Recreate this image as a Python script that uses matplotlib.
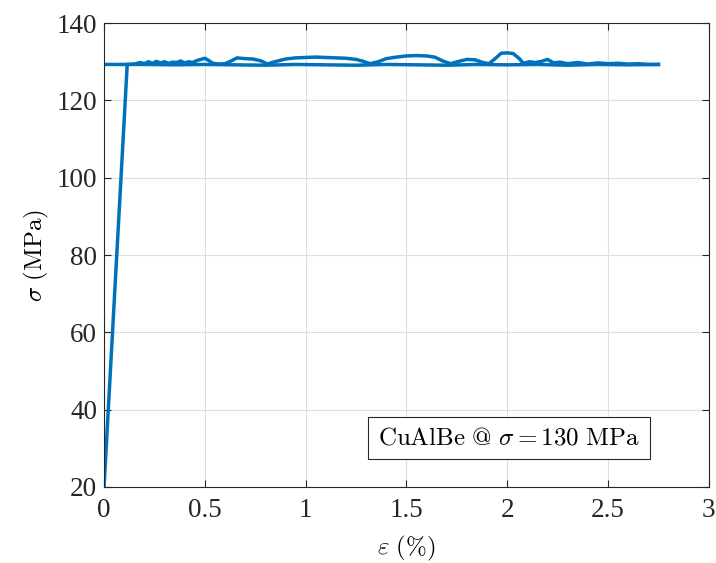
import matplotlib
matplotlib.use('Agg')
import matplotlib.pyplot as plt

# ── data ──────────────────────────────────────────────────────────────
load_strain = [0.0, 0.115]
load_stress = [20.0, 129.3]

upper_strain = [0.115, 0.15, 0.18, 0.2, 0.22, 0.24, 0.26, 0.28, 0.3, 0.32, 0.34, 0.36,
                0.38, 0.4, 0.42, 0.44, 0.46, 0.48, 0.5, 0.52, 0.54, 0.57, 0.6, 0.63,
                0.66, 0.7, 0.74, 0.78, 0.81, 0.84, 0.9, 0.95, 1.0, 1.05, 1.1, 1.15,
                1.2, 1.25, 1.28, 1.32, 1.36, 1.4, 1.45, 1.5, 1.55, 1.6, 1.64, 1.68,
                1.72, 1.76, 1.8, 1.84, 1.88, 1.91, 1.94, 1.97, 2.0, 2.03, 2.06, 2.08,
                2.11, 2.14, 2.17, 2.2, 2.23, 2.26, 2.3, 2.35, 2.4, 2.45, 2.5, 2.55,
                2.6, 2.65, 2.7, 2.75]
upper_stress = [129.3, 129.4, 129.8, 129.5, 130.0, 129.6, 130.1, 129.7, 130.0, 129.6, 129.9, 129.8,
                130.2, 129.7, 130.0, 129.8, 130.3, 130.6, 130.9, 130.3, 129.6, 129.4, 129.5, 130.2,
                131.0, 130.8, 130.7, 130.2, 129.4, 129.9, 130.7, 131.0, 131.1, 131.2, 131.1, 131.0,
                130.9, 130.6, 130.2, 129.5, 130.0, 130.8, 131.2, 131.5, 131.6, 131.5, 131.2, 130.2,
                129.5, 130.1, 130.6, 130.5, 129.8, 129.5, 130.8, 132.2, 132.3, 132.1, 130.8, 129.6,
                130.0, 129.8, 130.1, 130.6, 129.7, 129.9, 129.5, 129.8, 129.4, 129.7, 129.5, 129.6,
                129.4, 129.5, 129.3, 129.3]

lower_strain = [2.75, 2.6, 2.45, 2.3, 2.15, 2.0, 1.85, 1.7, 1.55, 1.4, 1.25, 1.1,
                0.95, 0.8, 0.65, 0.5, 0.35, 0.2, 0.1, 0.0]
lower_stress = [129.3, 129.2, 129.3, 129.1, 129.3, 129.2, 129.3, 129.1, 129.2, 129.3, 129.1, 129.2,
                129.3, 129.1, 129.2, 129.3, 129.2, 129.3, 129.3, 129.3]

x_ticks = [0, 0.5, 1, 1.5, 2, 2.5, 3]
x_labels = ['0', '0.5', '1', '1.5', '2', '2.5', '3']
y_ticks = [20, 40, 60, 80, 100, 120, 140]

# ── plot ──────────────────────────────────────────────────────────────
plt.rcParams['mathtext.fontset'] = 'cm'
plt.rcParams['font.family'] = ['Liberation Serif', 'DejaVu Serif']

fig = plt.figure(figsize=(7.16, 5.63), dpi=100)
ax = fig.add_axes([0.1453, 0.135, 0.8447, 0.824])

c = '#0072BD'
ax.plot(load_strain, load_stress, color=c, lw=2.5, solid_capstyle='butt')
ax.plot(upper_strain, upper_stress, color=c, lw=2.5)
ax.plot(lower_strain, lower_stress, color=c, lw=2.5)

ax.set_xlim(0, 3)
ax.set_ylim(20, 140)
ax.set_xticks(x_ticks)
ax.set_xticklabels(x_labels)
ax.set_yticks(y_ticks)
ax.grid(True, color='#dedede', lw=0.8)
ax.set_axisbelow(True)
ax.tick_params(direction='in', length=5, width=0.8, labelsize=19.5, colors='#262626',
               top=True, right=True)
ax.tick_params(axis='x', pad=8)
ax.tick_params(axis='y', pad=5)
for s in ax.spines.values():
    s.set_color('#262626')
    s.set_linewidth(0.8)

ax.set_xlabel(r'$\varepsilon\ \mathrm{(\%)}$', fontsize=18, labelpad=8)
ax.set_ylabel(r'$\sigma\ \mathrm{(MPa)}$', fontsize=18, labelpad=4)

ax.text(2.01, 32.6, r'$\mathrm{CuAlBe\ @\ }\sigma\mathrm{=130\ MPa}$', fontsize=18,
        ha='center', va='center',
        bbox=dict(boxstyle='square,pad=0.4', fc='white', ec='#262626', lw=0.8))

fig.savefig('out.png', dpi=100)
